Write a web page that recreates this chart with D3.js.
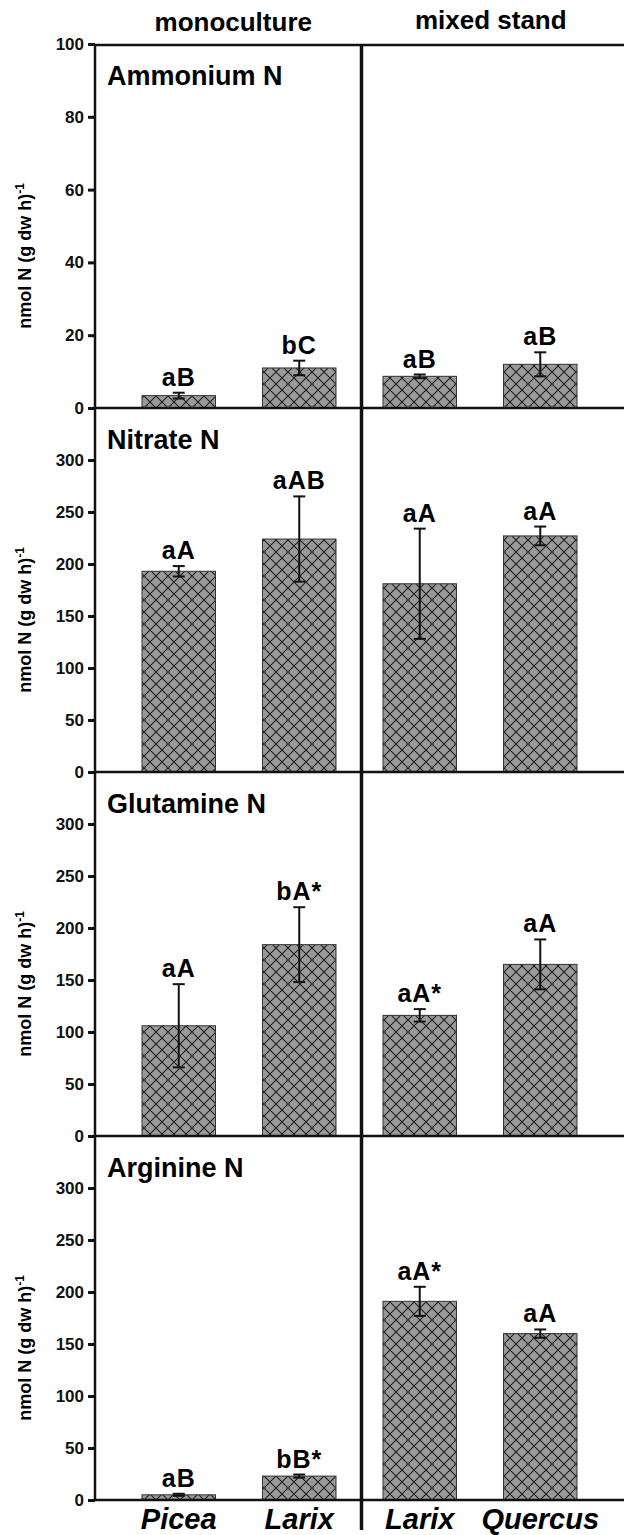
<!DOCTYPE html>
<html>
<head>
<meta charset="utf-8">
<script src="https://cdn.jsdelivr.net/npm/d3@7"></script>
<style>
  body { margin: 0; background: #fff; }
  svg { display: block; font-family: "Liberation Sans", Arial, sans-serif; font-weight: bold; }
</style>
</head>
<body>
<svg width="624" height="1535"></svg>
<script>
// bar categories (left two = monoculture, right two = mixed stand)
var species = ["Picea", "Larix", "Larix", "Quercus"]
var keys = ["Picea-mono", "Larix-mono", "Larix-mixed", "Quercus-mixed"]
var stands = ["monoculture", "mixed stand"]

// panel names and y-axis maxima / tick steps
var panelNames = ["Ammonium N", "Nitrate N", "Glutamine N", "Arginine N"]
var yMax = [100, 350, 350, 350]
var tickVals = [[0, 20, 40, 60, 80, 100], [0, 50, 100, 150, 200, 250, 300], [0, 50, 100, 150, 200, 250, 300], [0, 50, 100, 150, 200, 250, 300]]

// means and errors
var ammonium = [3.4, 11.0, 8.7, 12.0]
var ammoniumErr = [0.8, 2.0, 0.5, 3.3]
var nitrate = [193, 224, 181, 227]
var nitrateErr = [5, 41, 53, 9]
var glutamine = [106, 184, 116, 165]
var glutamineErr = [40, 36, 6, 24]
var arginine = [5, 23, 191, 160]
var arginineErr = [1, 1.5, 14, 4]

// significance letters
var ammoniumLab = ["aB", "bC", "aB", "aB"]
var nitrateLab = ["aA", "aAB", "aA", "aA"]
var glutamineLab = ["aA", "bA*", "aA*", "aA"]
var arginineLab = ["aB", "bB*", "aA*", "aA"]

var means = [ammonium, nitrate, glutamine, arginine]
var errs = [ammoniumErr, nitrateErr, glutamineErr, arginineErr]
var labs = [ammoniumLab, nitrateLab, glutamineLab, arginineLab]

var svg = d3.select("svg"),
    width = +svg.attr("width")

var left = 95, right = 624, top0 = 44, panelH = 364

var x = d3.scaleBand().domain(keys).range([left, right]).padding(0.39)
var divX = (x(keys[1]) + x.bandwidth() + x(keys[2])) / 2 + 2

// crosshatch fill
var pat = svg.append("defs").append("pattern")
    .attr("id", "hatch")
    .attr("patternUnits", "userSpaceOnUse")
    .attr("width", 12).attr("height", 12)
pat.append("rect").attr("width", 12).attr("height", 12).attr("fill", "#9a9a9a")
pat.append("path").attr("d", "M0,0L12,12M12,0L0,12M-1,11L1,13M11,-1L13,1")
    .attr("stroke", "#1e1e1e").attr("stroke-width", 1.1)

// column headers
svg.selectAll(".stand")
  .data(stands)
  .enter().append("text")
    .attr("x", function(d, i) { return i == 0 ? (left + divX) / 2 + 5 : (divX + right) / 2 - 2 })
    .attr("y", function(d, i) { return i == 0 ? 31 : 29 })
    .attr("text-anchor", "middle")
    .attr("font-size", 26)
    .text(function(d) { return d })

panelNames.forEach(function(name, p) {
  var y0 = top0 + p * panelH
  var y = d3.scaleLinear().domain([0, yMax[p]]).range([y0 + panelH, y0])
  var g = svg.append("g")

  // y axis
  g.append("g")
      .attr("transform", "translate(" + left + ",0)")
      .call(d3.axisLeft(y).tickValues(tickVals[p]).tickSize(7).tickPadding(4))
      .call(function(a) {
        a.select(".domain").remove()
        a.selectAll(".tick line").attr("stroke", "#111").attr("stroke-width", 3)
        a.selectAll(".tick text").attr("font-size", 17).attr("font-weight", "bold")
            .attr("font-family", "Liberation Sans, Arial, sans-serif").attr("fill", "#111")
      })

  // y axis title
  g.append("text")
      .attr("transform", "translate(31," + (y0 + panelH / 2 + 30) + ") rotate(-90)")
      .attr("text-anchor", "middle")
      .attr("font-size", 18)
      .html("nmol N (g dw h)<tspan dy='-7' font-size='12'>-1</tspan>")

  // panel title
  g.append("text")
      .attr("x", left + 12)
      .attr("y", y0 + 41)
      .attr("font-size", 27)
      .text(name)

  // bars
  g.selectAll(".bar")
    .data(keys)
    .enter().append("rect")
      .attr("x", function(d) { return x(d) })
      .attr("y", function(d, i) { return y(means[p][i]) })
      .attr("width", x.bandwidth())
      .attr("height", function(d, i) { return y(0) - y(means[p][i]) })
      .attr("fill", "url(#hatch)")
      .attr("stroke", "#333")
      .attr("stroke-width", 1)

  // error bars
  var eb = g.selectAll(".err")
    .data(keys)
    .enter().append("g")
      .attr("stroke", "#111").attr("stroke-width", 2)
  eb.append("line")
      .attr("x1", function(d) { return x(d) + x.bandwidth() / 2 })
      .attr("x2", function(d) { return x(d) + x.bandwidth() / 2 })
      .attr("y1", function(d, i) { return y(means[p][i] + errs[p][i]) })
      .attr("y2", function(d, i) { return y(means[p][i] - errs[p][i]) })
  eb.selectAll(".cap")
    .data(function(d, i) { return [[d, means[p][i] + errs[p][i]], [d, means[p][i] - errs[p][i]]] })
    .enter().append("line")
      .attr("x1", function(d) { return x(d[0]) + x.bandwidth() / 2 - 6 })
      .attr("x2", function(d) { return x(d[0]) + x.bandwidth() / 2 + 6 })
      .attr("y1", function(d) { return y(d[1]) })
      .attr("y2", function(d) { return y(d[1]) })

  // letters above bars
  g.selectAll(".lab")
    .data(keys)
    .enter().append("text")
      .attr("x", function(d) { return x(d) + x.bandwidth() / 2 })
      .attr("y", function(d, i) { return y(means[p][i] + errs[p][i]) - 7 })
      .attr("text-anchor", "middle")
      .attr("font-size", 25)
      .attr("letter-spacing", 1)
      .text(function(d, i) { return labs[p][i] })

  // zero line
  g.append("line")
      .attr("x1", left).attr("x2", right)
      .attr("y1", y(0)).attr("y2", y(0))
      .attr("stroke", "#111").attr("stroke-width", 2.5)
})

// top frame line, y axis and stand divider
svg.append("line")
    .attr("x1", left).attr("x2", right).attr("y1", top0 + 1).attr("y2", top0 + 1)
    .attr("stroke", "#111").attr("stroke-width", 2.5)
svg.append("line")
    .attr("x1", left).attr("x2", left).attr("y1", top0).attr("y2", top0 + 4 * panelH)
    .attr("stroke", "#111").attr("stroke-width", 2.5)
svg.append("line")
    .attr("x1", divX).attr("x2", divX).attr("y1", top0).attr("y2", top0 + 4 * panelH + 30)
    .attr("stroke", "#111").attr("stroke-width", 3.5)

// species names under the bottom panel
svg.selectAll(".sp")
  .data(keys)
  .enter().append("text")
    .attr("x", function(d) { return x(d) + x.bandwidth() / 2 })
    .attr("y", top0 + 4 * panelH + 29)
    .attr("text-anchor", "middle")
    .attr("font-size", 29)
    .attr("font-style", "italic")
    .text(function(d, i) { return species[i] })
</script>
</body>
</html>
